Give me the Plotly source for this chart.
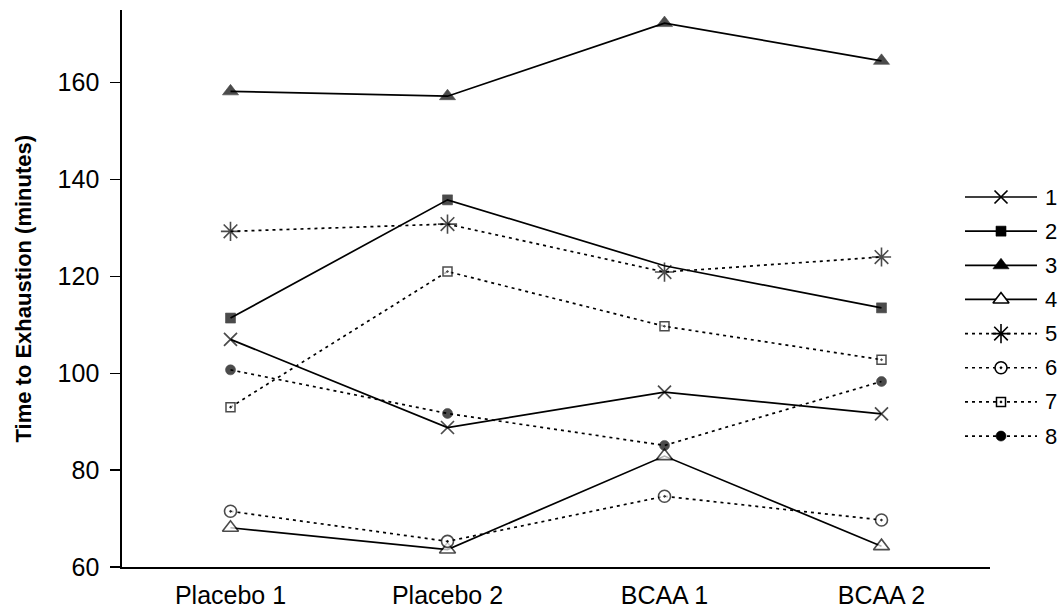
import plotly.graph_objects as go

# ---- data ----
categories = ["Placebo 1", "Placebo 2", "BCAA 1", "BCAA 2"]
series_names = ["1", "2", "3", "4", "5", "6", "7", "8"]
s1 = [107.0, 88.8, 96.1, 91.6]
s2 = [111.4, 135.8, 122.2, 113.5]
s3 = [158.2, 157.2, 172.3, 164.5]
s4 = [68.1, 63.6, 82.9, 64.3]
s5 = [129.3, 130.8, 120.9, 124.0]
s6 = [71.5, 65.3, 74.6, 69.7]
s7 = [93.0, 121.0, 109.7, 102.8]
s8 = [100.7, 91.7, 85.1, 98.3]
series_values = [s1, s2, s3, s4, s5, s6, s7, s8]
y_ticks = [60, 80, 100, 120, 140, 160]
y_title = "Time to Exhaustion (minutes)"

# ---- styles ----
SOLID = "solid"
DOT = "3px,4px"
LINE_W = 1.7
styles = [
    dict(dash=SOLID, symbol="x-thin", size=13, fill="black", lw=1.7),
    dict(dash=SOLID, symbol="square", size=10, fill="black", lw=0.6),
    dict(dash=SOLID, symbol="triangle-up", size=14, fill="black", lw=0.6),
    dict(dash=SOLID, symbol="triangle-up", size=14, fill="white", lw=1.6),
    dict(dash=DOT, symbol="asterisk", size=16, fill="black", lw=1.6),
    dict(dash=DOT, symbol="circle-dot", size=12, fill="white", lw=1.6),
    dict(dash=DOT, symbol="square-dot", size=9, fill="white", lw=1.5),
    dict(dash=DOT, symbol="circle", size=10, fill="black", lw=0.6),
]

FONT = "Liberation Sans, Arial, sans-serif"
W, H = 1059, 615
# plot geometry in window pixels
AX_LEFT, AX_TOP, AX_BOTTOM, AX_RIGHT = 122, 10, 567, 990
LEG_RIGHT = 1057
ML, MT = AX_LEFT, AX_TOP
MB = H - AX_BOTTOM
MR = W - LEG_RIGHT
plot_w = W - ML - MR

fig = go.Figure()

for i, (name, vals, st) in enumerate(zip(series_names, series_values, styles)):
    sizes = [st["size"]] * len(vals)
    if i == 1:
        sizes[2] = 0  # marker not visible in reference at BCAA 1
    fig.add_trace(go.Scatter(
        x=categories, y=vals, name=name, mode="lines+markers",
        line=dict(color="black", width=LINE_W, dash=st["dash"]),
        marker=dict(symbol=st["symbol"], size=sizes, color=st["fill"],
                    line=dict(color="black", width=st["lw"])),
        showlegend=False, xaxis="x", yaxis="y",
    ))

# ---- custom legend (long sample lines like the reference), window px ----
leg_x0, leg_x1, leg_label_x = 965, 1037, 1043
row0, row_step = 197, 34.15
for i, (name, st) in enumerate(zip(series_names, styles)):
    yy = row0 + i * row_step
    fig.add_trace(go.Scatter(
        x=[leg_x0, leg_x1], y=[yy, yy], mode="lines",
        line=dict(color="black", width=LINE_W, dash=st["dash"]),
        showlegend=False, hoverinfo="skip", xaxis="x2", yaxis="y2",
    ))
    fig.add_trace(go.Scatter(
        x=[(leg_x0 + leg_x1) / 2], y=[yy], mode="markers",
        marker=dict(symbol=st["symbol"], size=st["size"], color=st["fill"],
                    line=dict(color="black", width=st["lw"])),
        showlegend=False, hoverinfo="skip", xaxis="x2", yaxis="y2",
    ))
    fig.add_annotation(x=leg_label_x, y=yy, xref="x2", yref="y2", text=name,
                       showarrow=False, xanchor="left", yanchor="middle",
                       font=dict(family=FONT, size=22, color="black"))

# y axis title placed as rotated annotation
title_x_win = 23
fig.add_annotation(
    x=(title_x_win - ML) / plot_w, y=0.5, xref="paper", yref="paper",
    text="<b>" + y_title + "</b>", textangle=-90, showarrow=False,
    xanchor="center", yanchor="middle",
    font=dict(family=FONT, size=22, color="black"),
)

fig.update_layout(
    width=W, height=H,
    margin=dict(l=ML, r=MR, t=MT, b=MB, autoexpand=False),
    paper_bgcolor="white", plot_bgcolor="white",
    font=dict(family=FONT, color="black"),
    hovermode=False,
    xaxis=dict(
        domain=[0, (AX_RIGHT - AX_LEFT) / plot_w],
        type="category", range=[-0.5, 3.5],
        showline=True, linecolor="black", linewidth=1.7,
        ticks="", showgrid=False, zeroline=False, automargin=False,
        tickfont=dict(family=FONT, size=25, color="black"),
        ticklabelstandoff=5,
    ),
    yaxis=dict(
        range=[60, 175], tickvals=y_ticks,
        showline=True, linecolor="black", linewidth=1.7,
        ticks="outside", ticklen=10, tickwidth=1.5, tickcolor="black",
        showgrid=False, zeroline=False, automargin=False,
        tickfont=dict(family=FONT, size=25, color="black"),
        ticklabelstandoff=6,
    ),
    xaxis2=dict(domain=[(leg_x0 - AX_LEFT) / plot_w, 1], range=[leg_x0, LEG_RIGHT],
                anchor="y2", visible=False, fixedrange=True),
    yaxis2=dict(domain=[0, 1], range=[AX_BOTTOM, AX_TOP], anchor="x2",
                visible=False, fixedrange=True),
)

fig.write_html(
    "out.html",
    config={"displayModeBar": False, "staticPlot": True},
    post_script="document.body.style.margin='0px';document.body.style.overflow='hidden';",
)
